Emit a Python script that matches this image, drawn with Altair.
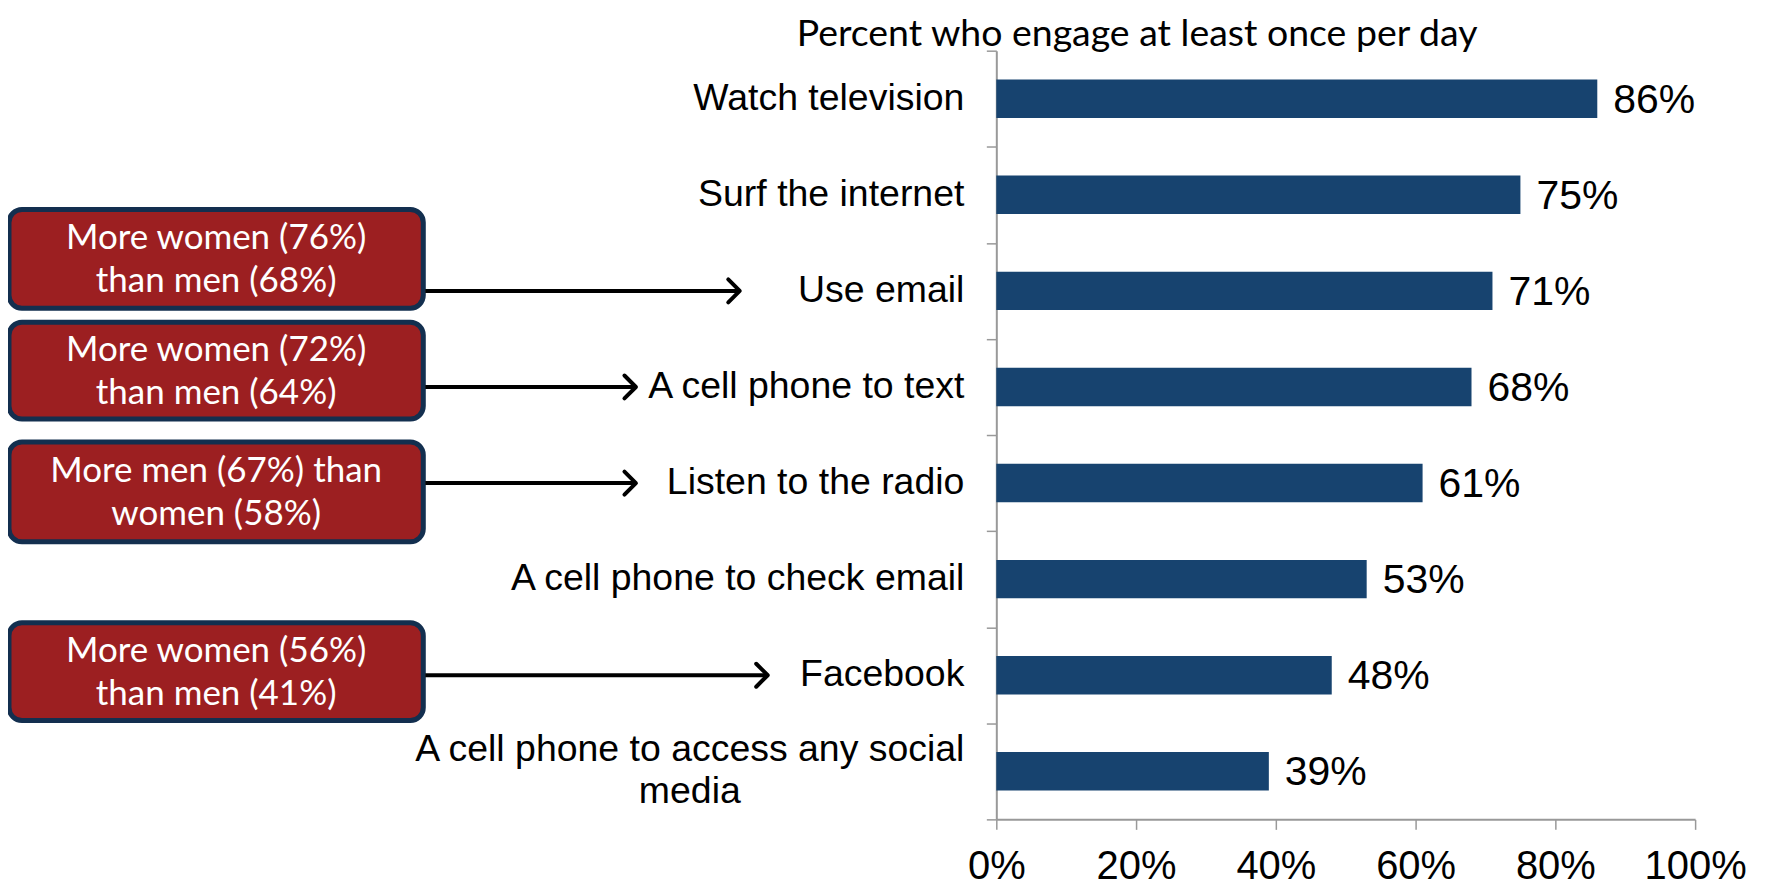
import altair as alt
import pandas as pd

# ---- data ----
categories = [
    "Watch television",
    "Surf the internet",
    "Use email",
    "A cell phone to text",
    "Listen to the radio",
    "A cell phone to check email",
    "Facebook",
    "A cell phone to access any social media",
]
category_labels = [
    "Watch television",
    "Surf the internet",
    "Use email",
    "A cell phone to text",
    "Listen to the radio",
    "A cell phone to check email",
    "Facebook",
    "A cell phone to access any social\nmedia",
]
values = [86, 75, 71, 68, 61, 53, 48, 39]
x_ticks = [0, 20, 40, 60, 80, 100]
title_text = "Percent who engage at least once per day"

note_targets = ["Use email", "A cell phone to text", "Listen to the radio", "Facebook"]
note_texts = [
    ["More women (76%)", "than men (68%)"],
    ["More women (72%)", "than men (64%)"],
    ["More men (67%) than", "women (58%)"],
    ["More women (56%)", "than men (41%)"],
]

# ---- styles (pixel positions of annotations, relative to the plot area) ----
BAR_COLOR = "#17436F"
BOX_FILL = "#9C1F21"
BOX_STROKE = "#132F4F"
AXIS_COLOR = "#999999"
BOX_LEFT, BOX_RIGHT = -989, -574
box_tops = [159, 272, 392, 573]
box_bottoms = [258, 369, 492, 671]
arrow_tips = [-257, -361, -361, -229]
BOX_LINE_H = 43

df = pd.DataFrame({
    "category": categories,
    "label": category_labels,
    "value": values,
    "vtext": [f"{v}%" for v in values],
})
single = df[~df["label"].str.contains("\n")]
multi = df[df["label"].str.contains("\n")]

y_enc = alt.Y(
    "category:N",
    sort=categories,
    scale=alt.Scale(domain=categories, paddingInner=0, paddingOuter=0),
    axis=alt.Axis(
        labels=False, title=None, tickBand="extent", tickSize=10,
        tickColor=AXIS_COLOR, domainColor=AXIS_COLOR, tickWidth=1.5, domainWidth=2,
    ),
)
x_enc = alt.X(
    "value:Q",
    scale=alt.Scale(domain=[0, 100]),
    axis=alt.Axis(
        values=x_ticks, labelExpr="datum.value + '%'", title=None, grid=False,
        tickSize=10, labelFontSize=40, labelFont="Liberation Sans",
        labelColor="black", labelPadding=17, labelOverlap=False, labelFlush=False,
        tickColor=AXIS_COLOR, domainColor=AXIS_COLOR, tickWidth=1.5, domainWidth=2,
    ),
)

bars = alt.Chart(df).mark_bar(
    color=BAR_COLOR, height=alt.RelativeBandSize(0.4)
).encode(y=y_enc, x=x_enc)

value_labels = alt.Chart(df).mark_text(
    align="left", baseline="middle", dx=16, dy=2, fontSize=41,
    font="Liberation Sans", color="black",
).encode(y=y_enc, x=x_enc, text="vtext:N")

cat_labels = alt.Chart(single).mark_text(
    align="right", baseline="middle", fontSize=37.5,
    font="Liberation Sans", color="black",
).encode(y=y_enc, x=alt.value(-32), text="label:N")

cat_labels_multi = alt.Chart(multi).mark_text(
    align="center", baseline="middle", fontSize=37.5, lineBreak="\n",
    lineHeight=42, dy=-21, font="Liberation Sans", color="black",
).encode(y=y_enc, x=alt.value(-307), text="label:N")

title = alt.Chart(pd.DataFrame({"t": [title_text]})).mark_text(
    align="center", baseline="middle", fontSize=37.5, font="Lato", color="black",
).encode(x=alt.value(141), y=alt.value(-16), text="t:N")

layers = [bars, value_labels, cat_labels, cat_labels_multi, title]

for i, target in enumerate(note_targets):
    box = alt.Chart(pd.DataFrame({"k": [0]})).mark_rect(
        fill=BOX_FILL, stroke=BOX_STROKE, strokeWidth=5, cornerRadius=13,
    ).encode(
        x=alt.value(BOX_LEFT), x2=alt.value(BOX_RIGHT),
        y=alt.value(box_tops[i]), y2=alt.value(box_bottoms[i]),
    )
    txt = alt.Chart(pd.DataFrame({"k": [0]})).mark_text(
        align="center", baseline="middle", fontSize=35, lineHeight=BOX_LINE_H,
        font="Lato", color="white",
    ).encode(
        x=alt.value((BOX_LEFT + BOX_RIGHT) / 2),
        y=alt.value((box_tops[i] + box_bottoms[i]) / 2 - BOX_LINE_H / 2 + 1),
        text=alt.value(note_texts[i]),
    )
    tdf = pd.DataFrame({"category": [target]})
    arrow = alt.Chart(tdf).mark_rule(color="black", strokeWidth=4).encode(
        y=y_enc, x=alt.value(BOX_RIGHT + 2), x2=alt.value(arrow_tips[i] - 2),
    )
    head = alt.Chart(tdf).mark_point(
        shape="M-1,-1L0,0L-1,1", filled=False, stroke="black", strokeWidth=4,
        size=529, opacity=1, strokeCap="round", strokeJoin="round",
    ).encode(y=y_enc, x=alt.value(arrow_tips[i]))
    layers += [box, txt, arrow, head]

chart = alt.layer(*layers).properties(
    width=700, height=770,
    autosize=alt.AutoSizeParams(type="none"),
    padding={"left": 990, "top": 42, "right": 70, "bottom": 68},
).configure_view(stroke=None)

chart.save("out.html", embed_options={"renderer": "svg", "actions": False})
